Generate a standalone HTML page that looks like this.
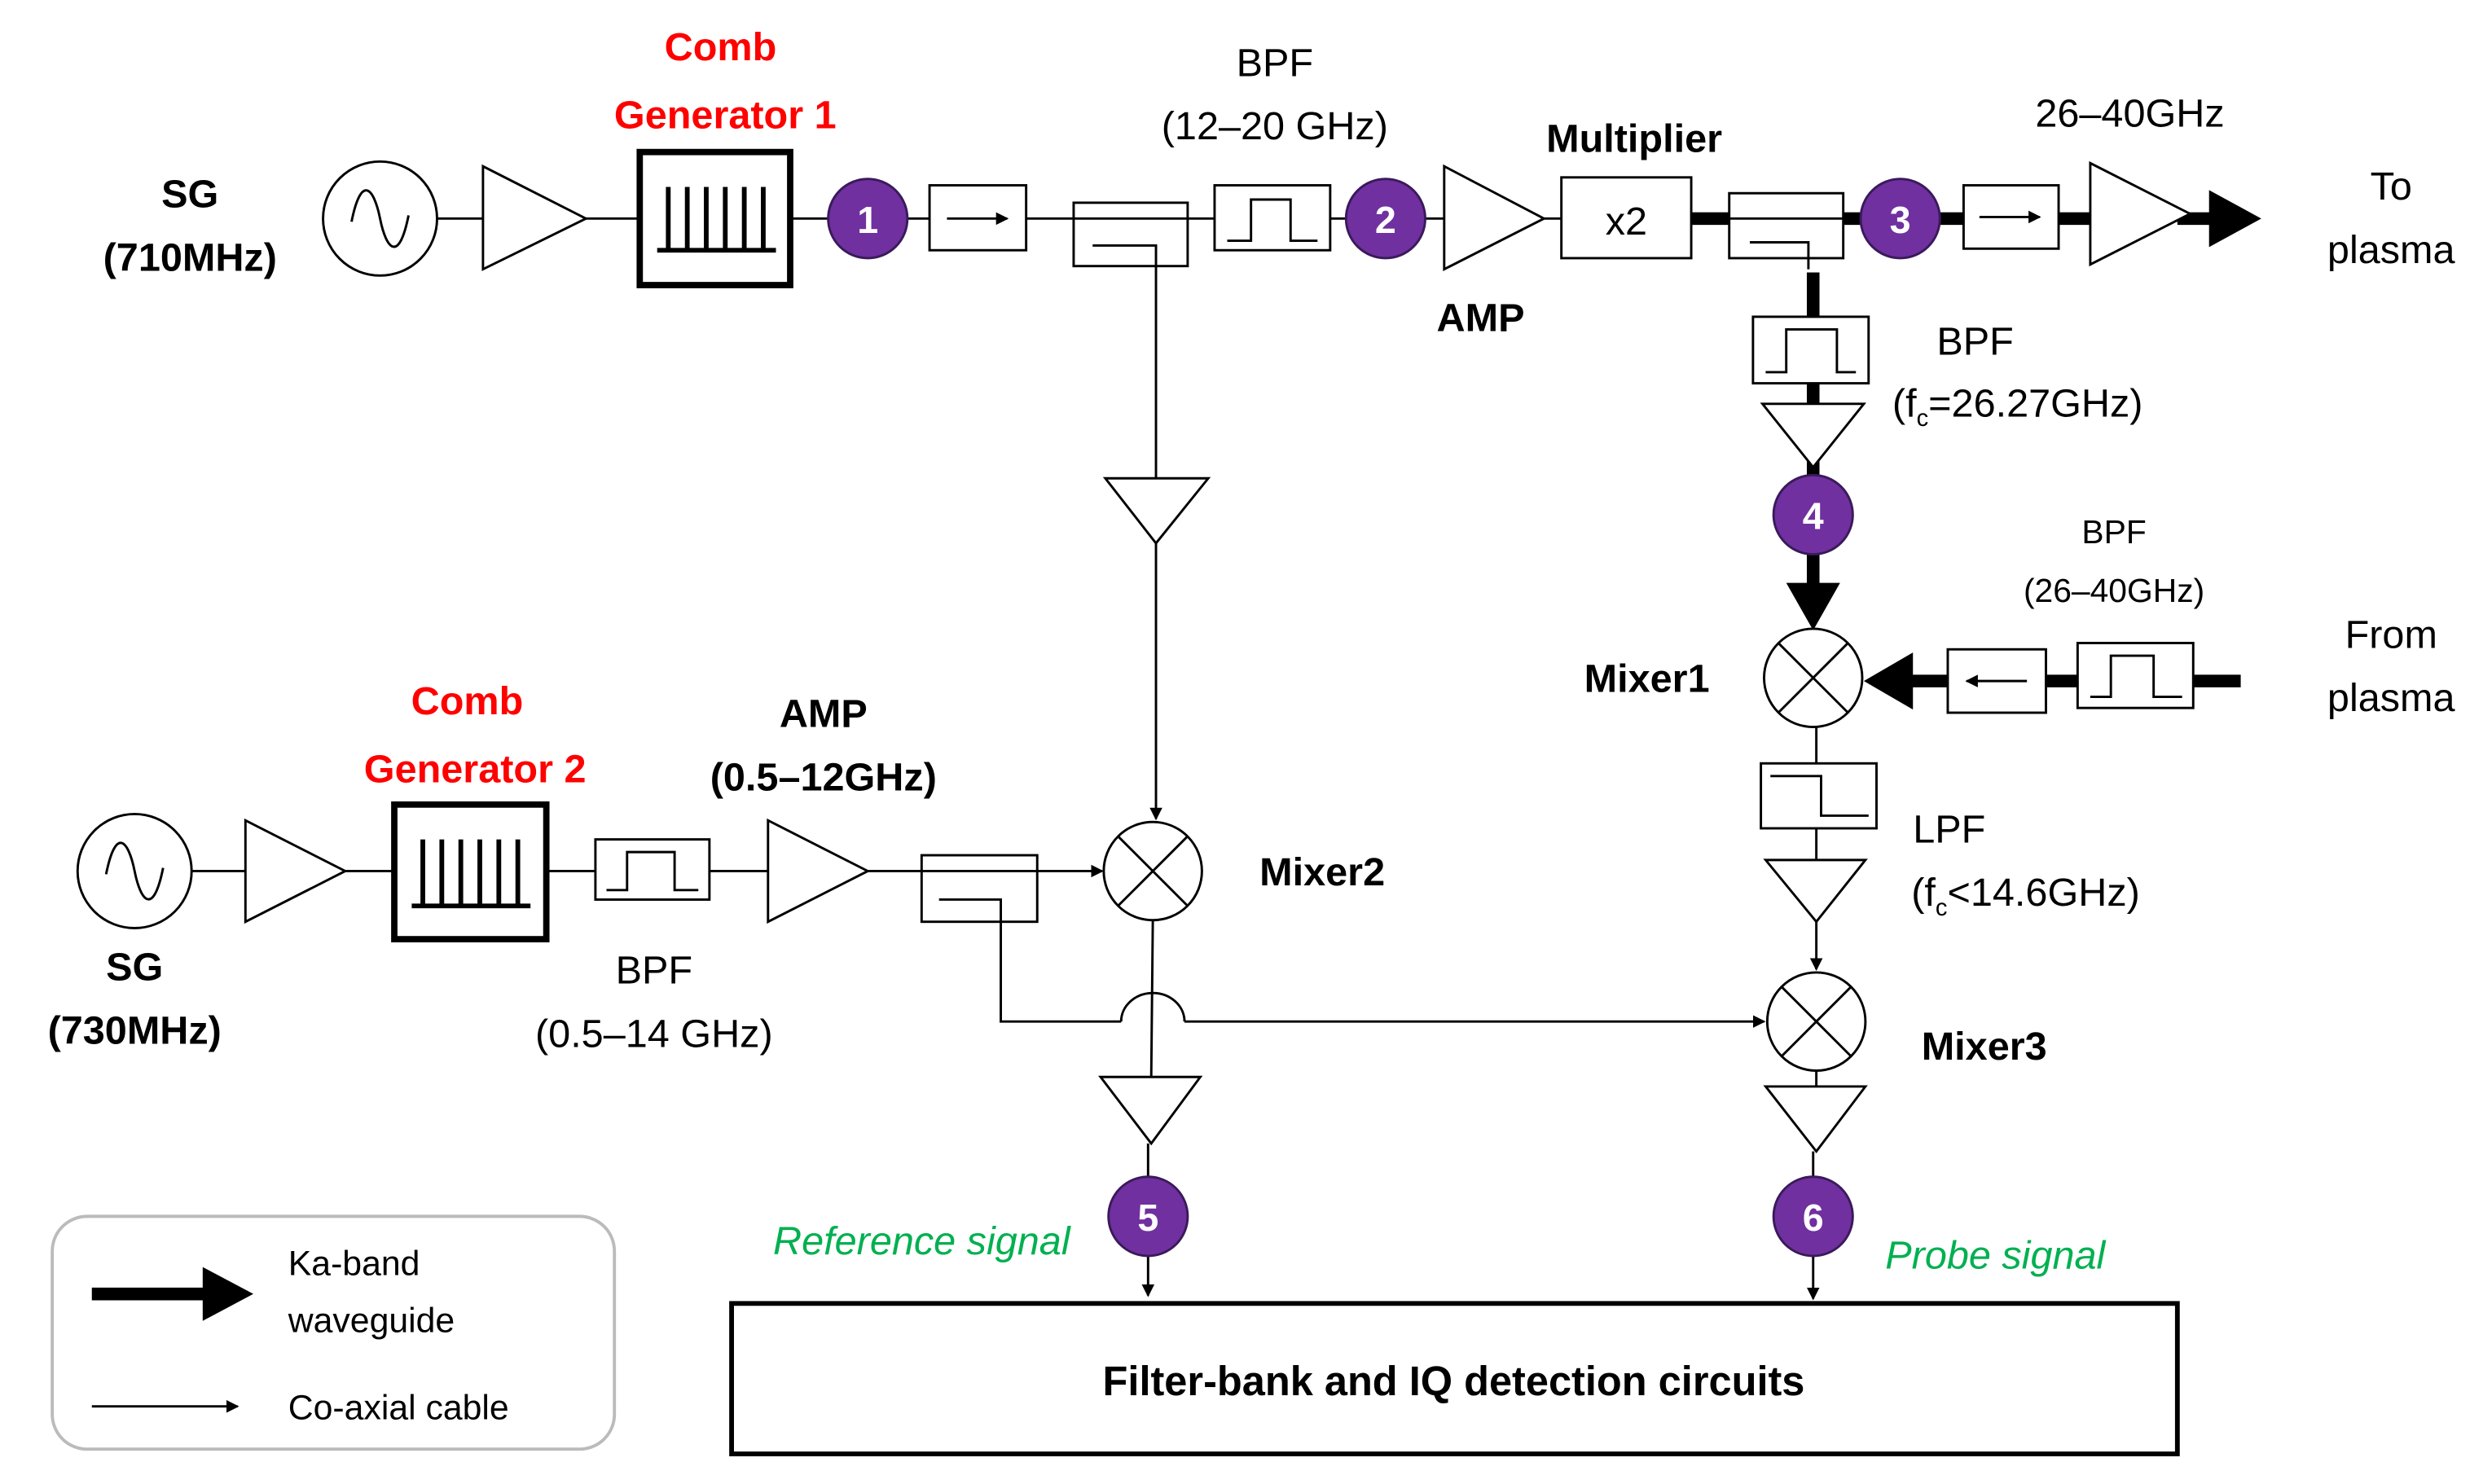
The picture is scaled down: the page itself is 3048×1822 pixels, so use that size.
<!DOCTYPE html>
<html><head><meta charset="utf-8"><style>html,body{margin:0;padding:0;background:#fff}svg{display:block}</style></head>
<body>
<svg width="3048" height="1822" viewBox="0 0 1568 937" preserveAspectRatio="none" xmlns="http://www.w3.org/2000/svg" font-family="Liberation Sans, sans-serif">
<defs>
<marker id="a" markerWidth="8" markerHeight="8" refX="7" refY="4" orient="auto" markerUnits="userSpaceOnUse"><path d="M0,0 L8,4 L0,8z" fill="#000"/></marker>
</defs>
<g stroke="#000" stroke-width="1.5" fill="none">
<circle cx="240" cy="138" r="36"/>
<path d="M222,140 C228,110 236,118 240,138 C244,158 252,166 258,136"/>
<line x1="276" y1="138" x2="305" y2="138"/>
<path d="M305,105 L305,170 L370,138z" fill="#fff"/>
<line x1="370" y1="138" x2="404" y2="138"/>
<rect x="404" y="96" width="95" height="84" stroke-width="4"/>
<g stroke-width="3"><line x1="415" y1="158" x2="490" y2="158"/><line x1="422" y1="158" x2="422" y2="118"/><line x1="434" y1="158" x2="434" y2="118"/><line x1="446" y1="158" x2="446" y2="118"/><line x1="458" y1="158" x2="458" y2="118"/><line x1="470" y1="158" x2="470" y2="118"/><line x1="482" y1="158" x2="482" y2="118"/></g>
<line x1="499" y1="138" x2="523" y2="138"/>
<line x1="573" y1="138" x2="587" y2="138"/>
<rect x="587" y="117" width="61" height="41"/>
<line x1="598" y1="138" x2="636" y2="138" marker-end="url(#a)"/>
<line x1="648" y1="138" x2="767" y2="138"/>
<rect x="678" y="128" width="72" height="40"/>
<path d="M690,155 L730,155 L730,302"/>
<rect x="767" y="117" width="73" height="41"/>
<path d="M775,152 L790,152 L790,126 L815,126 L815,152 L832,152"/>
<line x1="840" y1="138" x2="850" y2="138"/>
<line x1="900" y1="138" x2="912" y2="138"/>
<path d="M912,105 L912,170 L975,138z" fill="#fff"/>
<line x1="975" y1="138" x2="986" y2="138"/>
<rect x="986" y="112" width="82" height="51"/>
</g>
<g stroke="#000" stroke-width="8" fill="none">
<line x1="1068" y1="138" x2="1240" y2="138"/>
<line x1="1300" y1="138" x2="1320" y2="138"/>
<line x1="1375" y1="138" x2="1400" y2="138"/>
<line x1="1145" y1="172" x2="1145" y2="200"/>
<line x1="1145" y1="242" x2="1145" y2="258"/>
<line x1="1145" y1="290" x2="1145" y2="372"/>
<line x1="1415" y1="430" x2="1385" y2="430"/>
<line x1="1312" y1="430" x2="1292" y2="430"/>
<line x1="1230" y1="430" x2="1205" y2="430"/>
</g>
<path d="M1395,120 L1428,138 L1395,156z"/>
<path d="M1128,368 L1162,368 L1145,398z"/>
<path d="M1208,412 L1208,448 L1177,430z"/>
<g stroke="#000" stroke-width="1.5" fill="#fff">
<rect x="1092" y="122" width="72" height="41"/>
<line x1="1092" y1="138" x2="1164" y2="138" fill="none"/>
<path d="M1105,153 L1142,153 L1142,170" fill="none"/>
<rect x="1240" y="117" width="60" height="40"/>
<line x1="1250" y1="137" x2="1288" y2="137" marker-end="url(#a)" fill="none"/>
<path d="M1320,103 L1320,167 L1383,135z"/>
<rect x="1107" y="200" width="73" height="42"/>
<path d="M1115,235 L1128,235 L1128,208 L1160,208 L1160,235 L1172,235" fill="none"/>
<path d="M1113,255 L1177,255 L1145,295z"/>
<rect x="1312" y="406" width="73" height="41"/>
<path d="M1320,440 L1333,440 L1333,414 L1360,414 L1360,440 L1378,440" fill="none"/>
<rect x="1230" y="410" width="62" height="40"/>
<line x1="1280" y1="430" x2="1242" y2="430" marker-end="url(#a)" fill="none"/>
<circle cx="1145" cy="428" r="31"/>
<line x1="1123" y1="406" x2="1167" y2="450"/><line x1="1167" y1="406" x2="1123" y2="450"/>
<line x1="1147" y1="459" x2="1147" y2="482"/>
<rect x="1112" y="482" width="73" height="41"/>
<path d="M1118,490 L1150,490 L1150,515 L1180,515" fill="none"/>
<line x1="1147" y1="523" x2="1147" y2="543"/>
<path d="M1115,543 L1178,543 L1147,582z"/>
<line x1="1147" y1="582" x2="1147" y2="612" marker-end="url(#a)" fill="none"/>
<circle cx="1147" cy="645" r="31"/>
<line x1="1125" y1="623" x2="1169" y2="667"/><line x1="1169" y1="623" x2="1125" y2="667"/>
<line x1="1147" y1="676" x2="1147" y2="686"/>
<path d="M1115,686 L1178,686 L1147,727z"/>
<line x1="1145" y1="727" x2="1145" y2="745"/>
<line x1="1145" y1="793" x2="1145" y2="820" marker-end="url(#a)" fill="none"/>
<path d="M698,302 L763,302 L730,343z"/>
<line x1="730" y1="343" x2="730" y2="517" marker-end="url(#a)" fill="none"/>
<circle cx="728" cy="550" r="31"/>
<line x1="706" y1="528" x2="750" y2="572"/><line x1="750" y1="528" x2="706" y2="572"/>
<path d="M728,581 L727,680" fill="none"/>
<path d="M708,645 A20,18 0 0 1 748,645" fill="none"/>
<path d="M695,680 L758,680 L727,722z"/>
<line x1="725" y1="722" x2="725" y2="745"/>
<line x1="725" y1="793" x2="725" y2="818" marker-end="url(#a)" fill="none"/>
<circle cx="85" cy="550" r="36"/>
<path d="M67,552 C73,522 81,530 85,550 C89,570 97,578 103,548" fill="none"/>
<line x1="121" y1="550" x2="155" y2="550"/>
<path d="M155,518 L155,582 L218,550z"/>
<line x1="218" y1="550" x2="249" y2="550"/>
<rect x="249" y="508" width="96" height="85" stroke-width="4"/>
<g stroke-width="3"><line x1="260" y1="572" x2="335" y2="572"/><line x1="267" y1="572" x2="267" y2="530"/><line x1="279" y1="572" x2="279" y2="530"/><line x1="291" y1="572" x2="291" y2="530"/><line x1="303" y1="572" x2="303" y2="530"/><line x1="315" y1="572" x2="315" y2="530"/><line x1="327" y1="572" x2="327" y2="530"/></g>
<line x1="345" y1="550" x2="376" y2="550"/>
<rect x="376" y="530" width="72" height="38"/>
<path d="M383,562 L396,562 L396,538 L426,538 L426,562 L441,562" fill="none"/>
<line x1="448" y1="550" x2="485" y2="550"/>
<path d="M485,518 L485,582 L548,550z"/>
<line x1="548" y1="550" x2="582" y2="550"/>
<rect x="582" y="540" width="73" height="42"/>
<line x1="582" y1="550" x2="655" y2="550"/>
<line x1="655" y1="550" x2="696" y2="550" marker-end="url(#a)" fill="none"/>
<path d="M593,568 L632,568 L632,645 L708,645 M748,645 L1114,645" fill="none" marker-end="url(#a)"/>
<rect x="33" y="768" width="355" height="147" rx="22" stroke="#bbb" stroke-width="2" fill="none"/>
<line x1="58" y1="888" x2="150" y2="888" marker-end="url(#a)" fill="none"/>
<rect x="462" y="823" width="913" height="95" stroke-width="3" fill="none"/>
</g>
<line x1="58" y1="817" x2="130" y2="817" stroke="#000" stroke-width="8"/>
<path d="M128,800 L160,817 L128,834z"/>
<g fill="#7030a0" stroke="#3a1a5a" stroke-width="1.5">
<circle cx="548" cy="138" r="25"/><circle cx="875" cy="138" r="25"/><circle cx="1200" cy="138" r="25"/><circle cx="1145" cy="325" r="25"/><circle cx="725" cy="768" r="25"/><circle cx="1145" cy="768" r="25"/>
</g>
<g fill="#fff" font-weight="bold" font-size="24" text-anchor="middle">
<text x="548" y="147">1</text><text x="875" y="147">2</text><text x="1200" y="147">3</text><text x="1145" y="334">4</text><text x="725" y="777">5</text><text x="1145" y="777">6</text>
</g>
<g font-size="25" text-anchor="middle" fill="#000">
<text x="120" y="131" font-weight="bold">SG</text>
<text x="120" y="171" font-weight="bold">(710MHz)</text>
<text x="455" y="38" font-weight="bold" fill="#f00">Comb</text>
<text x="458" y="81" font-weight="bold" fill="#f00">Generator 1</text>
<text x="805" y="48">BPF</text>
<text x="805" y="88">(12–20 GHz)</text>
<text x="1032" y="96" font-weight="bold">Multiplier</text>
<text x="935" y="209" font-weight="bold">AMP</text>
<text x="1027" y="148">x2</text>
<text x="1345" y="80">26–40GHz</text>
<text x="1510" y="126">To</text>
<text x="1510" y="166">plasma</text>
<text x="1223" y="224" text-anchor="start">BPF</text>
<text x="1195" y="263" text-anchor="start">(f<tspan font-size="15" dy="6">c</tspan><tspan dy="-6">=26.27GHz)</tspan></text>
<text x="1335" y="343" font-size="21">BPF</text>
<text x="1335" y="380" font-size="21">(26–40GHz)</text>
<text x="1510" y="409">From</text>
<text x="1510" y="449">plasma</text>
<text x="1040" y="437" font-weight="bold">Mixer1</text>
<text x="1208" y="532" text-anchor="start">LPF</text>
<text x="1207" y="572" text-anchor="start">(f<tspan font-size="15" dy="6">c</tspan><tspan dy="-6">&lt;14.6GHz)</tspan></text>
<text x="1253" y="669" font-weight="bold">Mixer3</text>
<text x="835" y="559" font-weight="bold">Mixer2</text>
<text x="295" y="451" font-weight="bold" fill="#f00">Comb</text>
<text x="300" y="494" font-weight="bold" fill="#f00">Generator 2</text>
<text x="520" y="459" font-weight="bold">AMP</text>
<text x="520" y="499" font-weight="bold">(0.5–12GHz)</text>
<text x="85" y="619" font-weight="bold">SG</text>
<text x="85" y="659" font-weight="bold">(730MHz)</text>
<text x="413" y="621">BPF</text>
<text x="413" y="661">(0.5–14 GHz)</text>
<text x="582" y="792" font-style="italic" fill="#00b050">Reference signal</text>
<text x="1260" y="801" font-style="italic" fill="#00b050">Probe signal</text>
<text x="182" y="805" font-size="22" text-anchor="start">Ka-band</text>
<text x="182" y="841" font-size="22" text-anchor="start">waveguide</text>
<text x="182" y="896" font-size="22" text-anchor="start">Co-axial cable</text>
<text x="918" y="881" font-size="26" font-weight="bold">Filter-bank and IQ detection circuits</text>
</g>
</svg>
</body></html>
